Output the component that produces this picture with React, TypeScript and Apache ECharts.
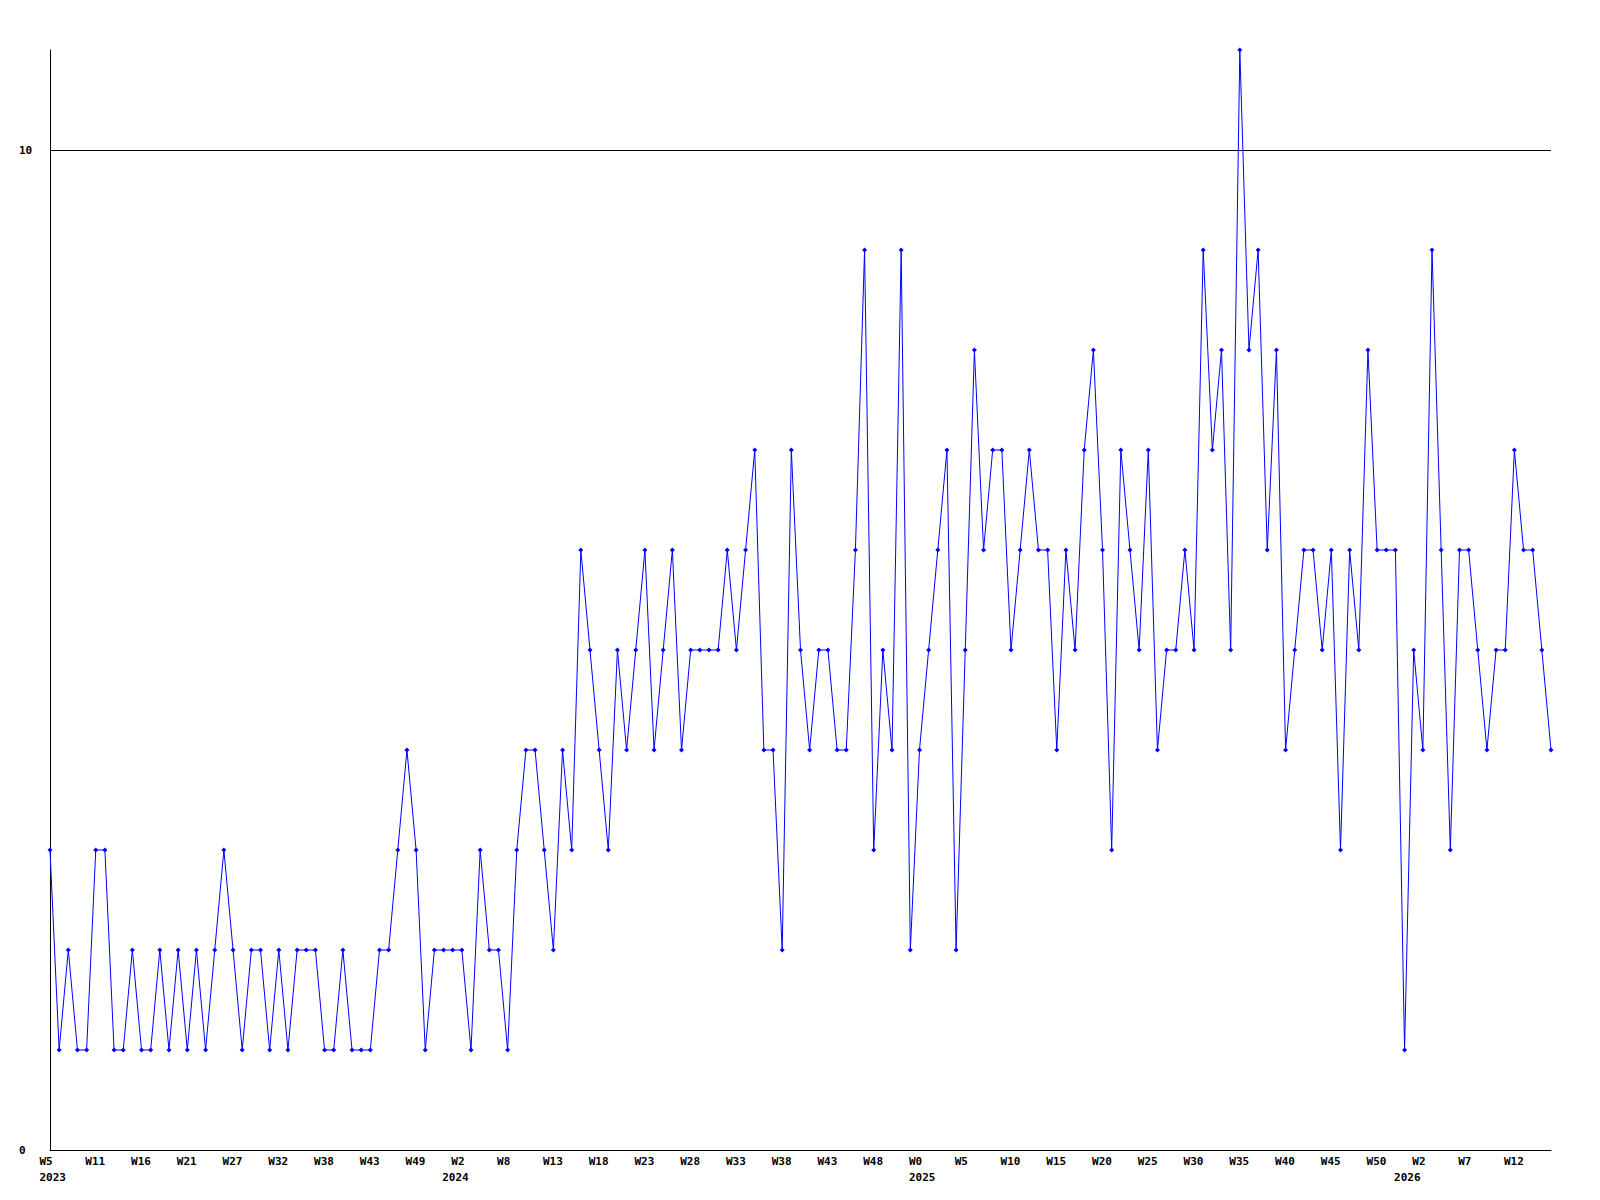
import React, { useEffect, useRef } from "react";
import * as echarts from "echarts";

// Weekly counts, one per point (left to right)
const values: number[] = [
  3, 1, 2, 1, 1, 3, 3, 1, 1, 2, 1, 1, 2, 1, 2, 1, 2, 1,
  2, 3, 2, 1, 2, 2, 1, 2, 1, 2, 2, 2, 1, 1, 2, 1, 1, 1,
  2, 2, 3, 4, 3, 1, 2, 2, 2, 2, 1, 3, 2, 2, 1, 3, 4,
  4, 3, 2, 4, 3, 6, 5, 4, 3, 5, 4, 5, 6, 4, 5, 6, 4, 5,
  5, 5, 5, 6, 5, 6, 7, 4, 4, 2, 7, 5, 4, 5, 5, 4, 4,
  6, 9, 3, 5, 4, 9, 2, 4, 5, 6, 7, 2, 5, 8, 6, 7, 7, 5,
  6, 7, 6, 6, 4, 6, 5, 7, 8, 6, 3, 7, 6, 5, 7, 4, 5,
  5, 6, 5, 9, 7, 8, 5,
  11, 8, 9, 6, 8, 4, 5, 6, 6, 5, 6, 3, 6, 5, 8, 6, 6, 6, 1, 5, 4, 9, 6, 3, 6, 6, 5, 4, 5, 5, 7, 6, 6, 5, 4,
];

// X week tick labels, one for every 5th point
const weekLabels: string[] = [
  "W5", "W11", "W16", "W21", "W27", "W32", "W38", "W43", "W49",
  "W2", "W8", "W13", "W18", "W23", "W28", "W33", "W38", "W43", "W48",
  "W0", "W5", "W10", "W15", "W20", "W25", "W30", "W35", "W40", "W45", "W50",
  "W2", "W7", "W12",
];
const weekStep = 5;

// Year labels and the point index where each year starts
const yearLabels: string[] = ["2023", "2024", "2025", "2026"];
const yearTicks: number[] = [0, 44, 95, 148];

// Y axis
const yMin = 0;
const yMax = 11;
const yInterval = 10;
const refLine = 10;

export default function App() {
  const ref = useRef<HTMLDivElement>(null);
  useEffect(() => {
    document.body.style.margin = "0";
    if (!ref.current) return;
    const chart = echarts.init(ref.current, undefined, { renderer: "svg" });
    const font = "DejaVu Sans Mono";
    const lastIdx = values.length - 1;
    const labelText = {
      color: "#000",
      fontFamily: font,
      fontWeight: "bold",
      fontSize: 11,
    };
    chart.setOption({
      animation: false,
      backgroundColor: "#ffffff",
      grid: [
        { left: 50, right: 49, top: 50, bottom: 50 },
        { left: 39.5, width: 1501, top: 50, bottom: 50 },
      ],
      xAxis: [
        {
          type: "value",
          gridIndex: 0,
          min: 0,
          max: lastIdx,
          axisLine: { show: true, onZero: false, lineStyle: { color: "#000", width: 1 } },
          axisTick: { show: false },
          axisLabel: { show: false },
          splitLine: { show: false },
        },
        {
          type: "value",
          gridIndex: 1,
          min: 0,
          max: lastIdx,
          interval: weekStep,
          axisLine: { show: false },
          axisTick: { show: false },
          splitLine: { show: false },
          axisLabel: {
            ...labelText,
            show: true,
            showMaxLabel: false,
            align: "left",
            verticalAlign: "top",
            margin: 6,
            formatter: (v: number) => {
              if (v % weekStep !== 0) return "";
              return weekLabels[v / weekStep] ?? "";
            },
          },
        },
        {
          type: "value",
          gridIndex: 1,
          position: "bottom",
          min: 0,
          max: lastIdx,
          axisLine: { show: false },
          axisTick: { show: false },
          splitLine: { show: false },
          axisLabel: {
            ...labelText,
            show: true,
            customValues: yearTicks,
            align: "left",
            verticalAlign: "top",
            margin: 22,
            formatter: (v: number) => {
              const i = yearTicks.indexOf(v);
              return i >= 0 ? yearLabels[i] : "";
            },
          },
        },
      ],
      yAxis: [
        {
          type: "value",
          gridIndex: 0,
          min: yMin,
          max: yMax,
          interval: yInterval,
          axisLine: { show: true, lineStyle: { color: "#000", width: 1 } },
          axisTick: { show: false },
          splitLine: { show: false },
          axisLabel: {
            ...labelText,
            showMaxLabel: false,
            align: "left",
            margin: 31,
          },
        },
        {
          type: "value",
          gridIndex: 1,
          min: yMin,
          max: yMax,
          show: false,
        },
      ],
      series: [
        {
          type: "line",
          xAxisIndex: 0,
          yAxisIndex: 0,
          data: values.map((v, i) => [i, v]),
          symbol: "diamond",
          symbolSize: 5,
          showSymbol: true,
          showAllSymbol: true,
          lineStyle: { color: "#0000ff", width: 1 },
          itemStyle: { color: "#0000ff" },
          markLine: {
            silent: true,
            symbol: ["none", "none"],
            label: { show: false },
            lineStyle: { color: "#000", width: 1, type: "solid" },
            data: [{ yAxis: refLine }],
          },
        },
      ],
    });
    return () => chart.dispose();
  }, []);
  return <div ref={ref} style={{ width: 1600, height: 1200 }} />;
}
